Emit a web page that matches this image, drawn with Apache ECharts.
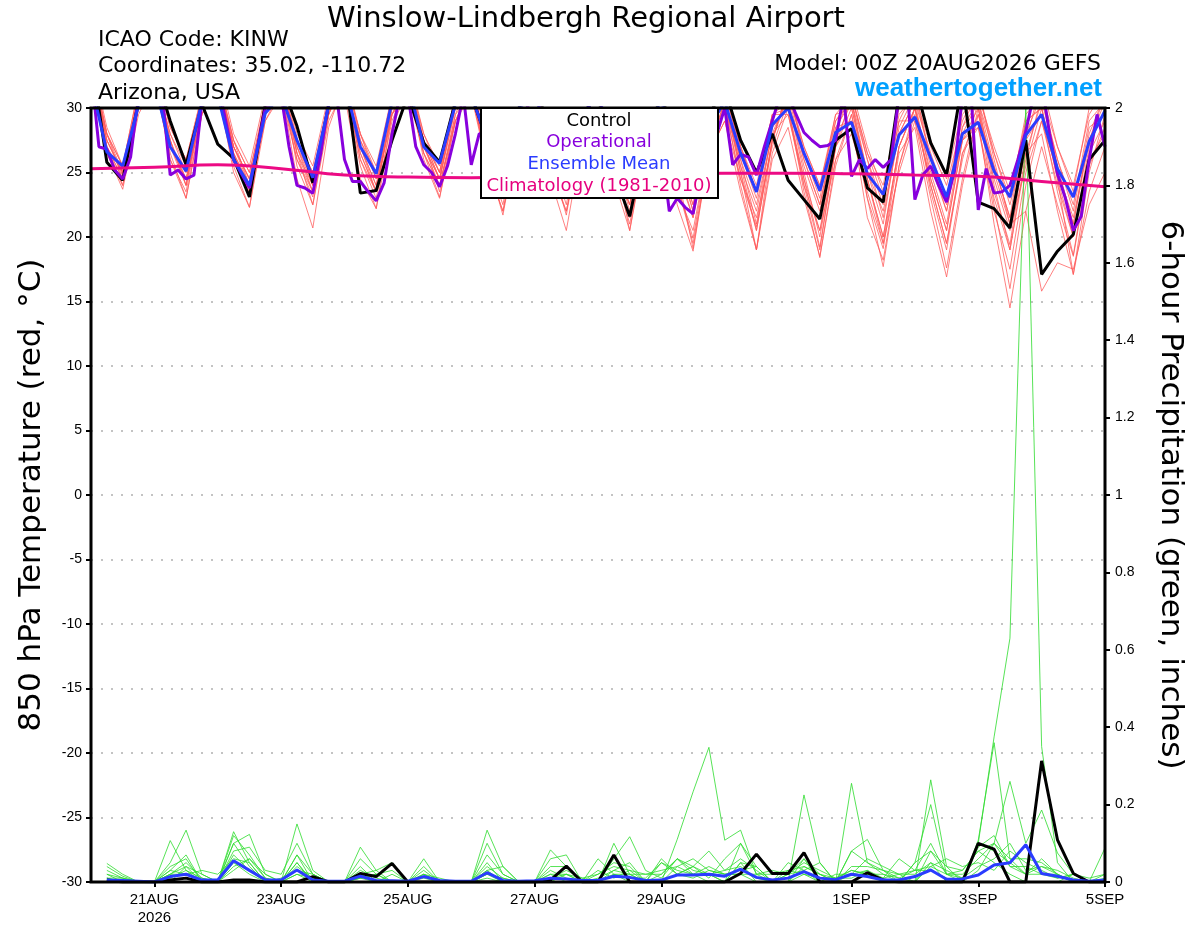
<!DOCTYPE html>
<html>
<head>
<meta charset="utf-8">
<script src="https://cdn.jsdelivr.net/npm/echarts@6/dist/echarts.min.js"></script>
<style>
html,body{margin:0;padding:0;background:#fff;}
#chart{width:1200px;height:927px;}
</style>
</head>
<body>
<div id="chart"></div>
<script>
// ---------- tick labels ----------
const tickHours = [24, 72, 120, 168, 216, 288, 336, 384];
const tickLabels = ['21AUG\n2026', '23AUG', '25AUG', '27AUG', '29AUG', '1SEP', '3SEP', '5SEP'];

// ---------- 850 hPa temperature (every 6 h from 00Z 20AUG) ----------
const controlTemp = [34,25.8,24.4,30.5, 33,29,25.6,30.3, 27.2,26.1,23.1,30.3, 32,28.6,24.2,30.2,
  33,23.4,23.6,27.5, 31,27.3,25.8,30.5, 31,27.5,25.5,30, 32,28,25,29.5,
  31,25,21.6,27.5, 31,27,24.5,29.5, 31.5,27.5,25.0,28.0, 24.4,22.9,21.4,27.5,
  28.4,23.8,22.7,31, 32,27.3,24.8,32, 22.7,22.2,20.7,27.5, 17.1,18.9,20.2,26.0, 27.5];
const meanTemp = [32,26.6,25.5,30.2, 32,27.0,25.1,30.5, 31,26.0,24.0,29.6, 31,27.5,24.6,30.2,
  32,27.0,24.9,30.5, 32,27.0,25.7,30.3, 31,27.5,25.5,30, 31,27.5,25,29.5,
  31,27,24.5,28.5, 30.5,27,24.5,28.5, 30.5,26.5,23.5,28.7, 30,26.5,23.6,28.1,
  28.9,24.9,23.3,27.9, 29.3,26.1,23.1,28.0, 28.9,25.1,23.1,27.9, 29.5,25.3,23.1,27.4, 29.8];
const operHours = [0,3,6,9,12,15,18,24,27,30,33,36,39,42,48,54,60,66,72,75,78,81,84,87,90,93,96,99,102,105,108,111,114,117,120,123,126,129,132,135,138,141,144,147,150,156,162,168,174,180,186,192,198,204,210,213,216,219,222,225,228,231,234,237,240,243,246,249,252,255,258,261,264,267,270,273,276,279,282,285,288,291,294,297,300,303,306,309,312,315,318,321,324,327,330,333,336,339,342,345,348,351,354,357,360,363,366,369,372,375,378,381,384];
const operTemp = [33,27,26.8,25.2,24.5,26.2,31,33,31,24.8,25.2,24.5,24.8,30.5,32,26.0,23.8,30,31,27,24,23.8,23.4,26.5,30.5,31,26,24.3,24.3,23.5,22.8,24.2,28,31,31,27,25.6,25.0,23.9,25.5,28,31,25.6,28,28,25.5,29,31,28,25,29.5,31,27,24,28,30,27,22.0,23.0,22.3,21.8,25,28,28,30,25.6,26.4,26.2,24.8,27,29,31,31,29.5,28.1,27.5,27.0,27.1,27.5,31,24.7,26.0,25.3,26.0,25.4,26.0,31,32,22.9,24.8,25.5,24.0,22.7,25.1,31,32,22.1,25.3,23.4,23.5,24.0,26,28.2,31,32,28,24.9,23.0,20.5,21.6,26,29.5,27];
const climHours = [0,24,48,72,96,120,144,168,192,216,240,264,288,312,336,360,384];
const climTemp = [25.3,25.4,25.6,25.3,24.8,24.65,24.6,24.7,24.8,24.9,24.95,24.95,24.9,24.8,24.7,24.3,23.9];

// ensemble members, temperature
const tMember01 = [33.5,27.5,24.8,30.5, 32.5,28.0,25.5,30.0, 32.0,27.0,24.5,30.5, 32.0,27.5,25.0,30.5, 32.5,28.0,24.5,29.5, 31.5,27.0,24.0,29.0, 31.0,26.5,23.5,29.0, 31.5,27.0,24.5,29.5, 31.0,26.0,22.5,28.5, 30.5,25.5,21.5,27.5, 30.0,26.0,22.5,28.0, 31.0,27.0,24.0,29.0, 30.5,24.5,20.0,27.0, 30.0,25.5,22.0,28.5, 31.5,26.5,23.0,29.5, 31.0,25.5,21.0,27.5, 30.5];
const tMember02 = [33.0,26.5,24.0,30.0, 33.0,27.0,24.5,29.5, 31.5,25.0,22.3,29.0, 31.0,26.0,23.5,30.0, 32.0,26.0,23.0,29.0, 32.0,27.5,25.0,30.5, 32.5,28.0,24.5,30.0, 31.0,25.5,22.0,28.0, 30.0,24.5,20.5,27.0, 29.5,24.0,19.5,26.5, 29.0,23.5,19.0,26.0, 28.5,23.0,18.5,25.5, 29.5,24.5,20.0,27.0, 30.0,24.0,19.5,26.5, 28.5,22.0,17.5,25.0, 29.0,24.0,20.0,27.0, 30.0];
const tMember03 = [34.0,27.0,24.5,31.0, 32.0,26.5,23.0,29.5, 32.5,27.5,25.0,30.0, 32.5,25.5,22.5,29.0, 31.5,25.5,22.2,29.5, 32.0,27.5,24.5,30.5, 31.5,26.0,21.7,28.5, 31.5,27.5,25.0,30.0, 32.0,26.5,20.5,27.5, 31.0,26.5,22.0,28.5, 31.5,27.0,23.5,29.5, 30.0,24.0,19.0,27.0, 31.0,26.5,23.0,29.0, 31.5,27.5,24.5,30.0, 30.0,23.5,19.4,27.5, 32.0,27.0,24.0,29.5, 31.5];
const tMember04 = [33.0,28.0,25.5,31.0, 32.5,27.0,24.0,30.5, 33.0,26.0,23.4,29.0, 31.5,24.5,20.7,28.5, 32.0,27.0,23.5,30.0, 33.0,28.0,25.5,31.0, 32.0,27.0,24.5,30.0, 32.5,27.0,23.5,29.5, 31.5,27.5,24.5,30.0, 30.0,24.0,19.9,27.0, 30.5,25.5,20.5,27.5, 31.5,26.5,23.5,29.5, 30.0,25.0,22.0,28.0, 30.5,24.5,20.5,27.5, 29.0,21.0,14.5,22.0, 27.0,22.5,18.5,25.5, 28.5];
const tMember05 = [32.5,27.0,25.0,30.5, 33.5,28.5,26.0,31.0, 32.0,26.5,24.0,30.0, 32.5,26.5,24.0,30.5, 31.0,24.5,22.2,28.5, 31.5,26.5,23.1,29.0, 32.0,27.0,24.0,29.5, 31.0,26.0,21.7,28.5, 31.5,26.0,22.5,29.0, 31.0,25.0,19.1,26.5, 30.5,26.0,21.0,28.5, 30.0,23.5,18.4,26.0, 29.5,23.0,17.7,25.5, 30.0,25.0,21.0,28.0, 30.5,24.0,19.0,26.0, 31.0,26.0,22.0,28.5, 29.5];
const tMember06 = [34.0,28.5,25.5,31.5, 32.0,27.5,24.5,30.0, 32.5,27.0,24.0,30.5, 33.0,27.5,25.0,30.0, 32.5,27.0,24.0,30.5, 32.0,26.0,23.0,29.0, 31.5,26.5,23.5,29.5, 30.5,25.0,22.0,28.0, 30.0,25.5,22.5,28.5, 29.5,22.5,18.9,26.5, 29.0,24.5,20.8,27.5, 31.0,26.0,22.5,28.5, 30.5,26.0,22.5,29.0, 29.0,23.0,17.6,24.5, 30.0,22.5,16.0,24.0, 29.0,25.0,21.5,27.5, 31.0];
const tMember07 = [33.0,27.5,25.0,31.0, 32.5,28.0,25.0,30.5, 32.0,27.0,24.5,29.5, 31.5,26.0,23.1,29.5, 33.0,28.0,25.5,31.0, 32.5,27.0,24.5,30.0, 32.5,27.5,24.0,30.5, 32.0,27.0,23.5,29.0, 31.0,26.5,23.0,29.5, 30.5,26.0,22.5,28.0, 31.0,25.0,19.0,26.5, 30.0,24.5,19.2,27.0, 29.0,23.0,19.1,26.5, 28.5,22.0,16.9,24.0, 29.5,25.5,21.5,26.5, 28.0,22.0,17.1,23.5, 27.0];
const tMember08 = [33.5,28.0,24.5,30.0, 33.0,27.5,24.0,30.0, 32.5,26.5,23.5,30.0, 32.0,27.0,24.0,29.5, 32.5,26.5,23.5,30.0, 31.5,26.5,24.0,29.5, 31.0,25.5,22.0,28.5, 31.5,26.5,23.5,29.5, 32.0,27.0,24.0,29.0, 31.5,26.5,23.0,28.5, 31.0,27.0,23.5,29.5, 29.5,24.0,20.5,26.0, 28.0,23.5,19.5,25.0, 29.0,24.5,20.5,27.5, 30.0,25.0,21.0,22.0, 15.8,18.0,17.5,22.5, 25.0];
const tMember09 = [33.0,27.0,24.5,30.5, 32.5,26.0,23.5,30.0, 33.0,28.0,25.5,31.0, 32.5,27.0,24.5,30.5, 32.0,27.5,25.0,30.5, 32.5,27.0,24.5,30.0, 33.0,27.5,25.0,30.5, 32.5,27.5,24.5,30.5, 32.0,26.5,23.5,29.5, 31.5,26.0,22.0,28.5, 30.5,25.0,20.5,27.5, 31.5,27.0,24.0,29.5, 31.0,26.0,21.5,28.0, 30.5,26.5,23.0,29.5, 31.0,27.0,23.5,29.0, 30.0,24.5,20.0,26.5, 29.0];
const tMember10 = [32.5,26.5,23.7,29.5, 32.0,27.0,24.5,29.5, 31.5,27.0,24.5,29.5, 32.0,27.5,24.0,30.0, 32.5,28.0,25.0,31.0, 32.5,27.5,25.0,30.5, 32.0,27.0,24.5,30.0, 31.5,26.5,23.0,29.0, 30.5,25.5,21.0,27.5, 30.0,25.0,21.5,28.5, 30.5,25.5,22.0,28.0, 29.5,24.5,20.5,27.5, 30.5,25.0,21.0,28.5, 31.0,26.0,22.5,27.5, 28.5,23.0,19.0,26.5, 30.5,26.0,22.5,29.0, 30.5];
const tMember11 = [33.5,27.5,25.0,31.0, 32.5,27.0,25.0,30.5, 32.5,27.5,24.0,30.0, 33.0,28.0,25.5,31.0, 31.5,26.5,23.5,29.5, 31.0,26.5,24.0,29.0, 31.5,26.0,22.5,29.0, 32.0,27.5,25.0,30.5, 32.5,27.5,25.0,30.5, 31.5,27.5,24.5,29.5, 31.5,26.5,23.0,28.5, 30.5,25.5,22.0,28.5, 29.0,21.5,18.2,25.5, 29.5,24.0,19.5,26.0, 30.5,26.5,22.5,27.5, 29.5,23.5,18.6,26.0, 28.0];
const tMember12 = [34.0,28.0,25.5,31.5, 33.0,28.5,26.0,31.0, 32.0,27.5,25.0,30.5, 32.5,26.5,22.5,29.5, 33.0,27.5,24.5,30.5, 32.0,27.5,23.5,29.5, 32.5,28.0,25.5,31.0, 32.0,27.5,24.0,30.0, 31.5,27.0,23.5,29.0, 30.0,23.5,20.5,27.0, 30.5,24.0,19.0,27.5, 31.5,26.5,23.0,29.0, 31.0,26.5,24.0,30.0, 31.5,26.0,22.0,28.5, 30.5,25.5,21.5,29.0, 30.0,25.0,21.0,28.0, 31.0];
const tMember13 = [33.0,27.0,24.0,30.0, 33.5,27.5,24.0,30.5, 31.0,25.5,22.3,29.5, 31.5,26.5,23.5,29.5, 32.0,26.0,23.5,30.0, 33.0,27.5,24.5,30.5, 31.5,25.5,22.0,28.0, 31.0,26.5,22.5,29.0, 31.5,26.5,22.0,28.0, 31.0,27.0,23.5,29.5, 31.5,27.0,24.0,29.5, 30.5,25.0,20.0,27.0, 30.0,24.5,19.5,27.0, 30.0,23.5,19.0,26.5, 29.5,24.5,20.5,25.5, 30.0,24.5,17.1,25.0, 29.5];
const tMember14 = [33.5,28.0,25.0,30.5, 32.5,26.0,23.0,29.5, 32.5,26.5,24.0,30.5, 32.5,27.0,23.5,30.0, 31.5,27.0,24.0,29.5, 32.5,28.0,25.0,31.0, 31.0,26.0,23.0,28.5, 30.5,24.5,20.5,27.5, 31.0,25.5,21.5,28.0, 31.5,26.5,22.5,29.0, 30.0,24.5,21.5,27.0, 30.5,26.0,22.5,28.0, 31.5,27.0,23.5,29.5, 31.0,27.0,24.0,29.0, 31.5,26.0,21.0,28.0, 31.0,27.0,23.5,30.0, 32.0];

// ---------- 6-hour precipitation (inches, valid 06Z 20AUG .. 00Z 5SEP) ----------
const controlPrecip = [0.005,0,0,0, 0.005,0.01,0,0, 0.005,0.005,0,0, 0,0.014,0,0, 0.022,0.014,0.048,0, 0,0,0,0, 0,0,0,0, 0.005,0.041,0,0, 0.07,0,0,0, 0,0,0,0, 0.022,0.072,0.022,0.022, 0.076,0,0,0, 0.024,0.005,0,0, 0,0,0,0.1, 0.085,0,0,0.313, 0.109,0.022,0,0];
const meanPrecip = [0.005,0.004,0.002,0, 0.014,0.02,0.005,0.005, 0.055,0.03,0.006,0.005, 0.031,0.005,0.002,0.002, 0.015,0.004,0.003,0.002, 0.014,0.004,0.002,0.002, 0.024,0.004,0.002,0.003, 0.01,0.008,0.004,0.004, 0.015,0.012,0.004,0.005, 0.018,0.018,0.02,0.015, 0.033,0.012,0.005,0.01, 0.027,0.01,0.006,0.02, 0.014,0.005,0.005,0.014, 0.031,0.007,0.008,0.018, 0.044,0.05,0.096,0.022, 0.015,0.005,0.002,0.005];
const pMember01 = [0.048,0.02,0,0, 0.107,0.03,0,0, 0.13,0.05,0,0, 0.02,0,0,0, 0.04,0,0,0, 0,0,0,0, 0.05,0,0,0, 0.02,0,0,0.06, 0.02,0,0,0, 0.02,0.04,0.02,0, 0.05,0,0,0, 0.06,0,0,0.02, 0.03,0,0,0, 0.08,0.02,0,0.1, 0.375,0.63,2.0,0.35, 0.05,0,0,0];
const pMember02 = [0.04,0.015,0,0, 0.05,0.134,0.02,0, 0.12,0.07,0.01,0, 0.15,0.03,0,0, 0.02,0,0,0, 0.06,0,0,0, 0.134,0.04,0,0, 0,0.02,0,0, 0.1,0.02,0,0, 0.11,0.233,0.348,0.108, 0.134,0.02,0,0, 0.02,0,0,0, 0.02,0,0,0, 0.05,0,0,0.03, 0.1,0.26,0.1,0.186, 0.075,0.02,0,0];
const pMember03 = [0.02,0,0,0, 0.03,0.07,0,0, 0.1,0.123,0.02,0, 0.07,0.02,0,0, 0.09,0.03,0.05,0, 0.02,0,0,0, 0.07,0.02,0,0, 0.083,0.04,0,0, 0.06,0.117,0.03,0.01, 0.06,0.02,0,0, 0.1,0.04,0,0, 0.225,0.05,0,0.08, 0.11,0.03,0.01,0, 0.264,0.04,0,0.108, 0.36,0.06,0.06,0.05, 0.02,0,0,0.088];
const pMember04 = [0.01,0,0,0, 0.02,0.04,0,0, 0.08,0.09,0.03,0.02, 0.1,0.02,0,0, 0.06,0.02,0,0, 0.04,0,0,0, 0.1,0.02,0,0, 0.06,0.07,0,0, 0.02,0.02,0,0.06, 0.02,0.01,0.03,0.02, 0.03,0.04,0,0.05, 0.03,0.05,0,0.255, 0.05,0.03,0,0.05, 0.2,0.02,0.03,0.08, 0.1,0.06,0.02,0.02, 0.01,0.02,0,0];
const pMember05 = [0.03,0.01,0,0, 0.02,0.02,0.03,0.02, 0.06,0.05,0,0, 0.05,0,0,0, 0.02,0.03,0,0, 0,0,0,0, 0.03,0.04,0,0, 0.04,0.04,0,0, 0.03,0.05,0,0.05, 0.03,0.02,0.04,0.02, 0.02,0,0,0, 0.04,0.02,0,0.08, 0.05,0.02,0,0.05, 0.08,0.04,0.03,0.08, 0.05,0.02,0,0, 0,0.02,0,0];
const pMember06 = [0,0,0,0, 0.04,0.06,0,0, 0.04,0.06,0.01,0, 0.04,0.01,0,0, 0.03,0.01,0,0, 0.02,0.01,0,0, 0.04,0.01,0,0, 0.02,0.02,0,0.02, 0.04,0.03,0.02,0.02, 0.06,0.04,0.01,0.06, 0.1,0.02,0.02,0.03, 0.04,0.02,0,0.04, 0.04,0.03,0.02,0.02, 0.05,0.03,0.01,0.1, 0.08,0.05,0.02,0.04, 0.03,0.01,0,0.02];
const pMember07 = [0.02,0.01,0,0, 0.01,0.03,0.01,0, 0.1,0.04,0,0, 0.07,0,0,0, 0.01,0.02,0.03,0, 0.01,0,0,0, 0.02,0,0,0, 0.01,0.02,0.01,0, 0.02,0.01,0.01,0.05, 0.02,0.04,0.08,0.03, 0.04,0.01,0,0.02, 0.06,0.02,0.01,0.03, 0.02,0.02,0.01,0.03, 0.03,0.01,0,0.09, 0.12,0.04,0.02,0.06, 0.02,0,0,0];
const pMember08 = [0.01,0,0,0, 0,0.04,0.02,0, 0.07,0.03,0,0.01, 0.03,0.02,0,0, 0.02,0,0,0, 0,0,0,0, 0.02,0.01,0,0, 0,0,0,0.03, 0.01,0.03,0,0, 0.04,0.06,0.03,0.02, 0.02,0.02,0.03,0.02, 0.03,0,0.02,0.02, 0.06,0.04,0.02,0, 0.04,0.02,0.02,0.06, 0.1,0.04,0.04,0.02, 0.02,0,0,0.01];
const pMember09 = [0,0,0,0, 0.02,0.05,0.01,0, 0.05,0.02,0,0, 0.02,0.01,0,0, 0.01,0,0.02,0, 0.02,0,0,0, 0.03,0,0,0, 0.03,0.01,0,0.01, 0.03,0.02,0.02,0.03, 0.04,0.02,0.02,0.03, 0.06,0.03,0,0.02, 0.05,0.03,0.01,0.01, 0.03,0.01,0.02,0.03, 0.04,0.06,0.04,0.05, 0.03,0.08,0.05,0.03, 0.01,0.02,0.01,0.02];
const pMember10 = [0.01,0.01,0,0, 0.03,0.02,0,0, 0.03,0.06,0.02,0, 0.05,0,0,0, 0.01,0.02,0,0, 0.03,0,0,0, 0.01,0,0,0, 0.01,0.03,0.01,0.02, 0.05,0.04,0,0.02, 0.06,0.03,0.02,0, 0.05,0.04,0,0.03, 0.02,0.01,0.01,0.03, 0.02,0.01,0.06,0.03, 0.1,0.02,0.01,0.04, 0.06,0.1,0.03,0.04, 0.02,0,0,0];

// ---------- build ----------
const tempMembers = [tMember01,tMember02,tMember03,tMember04,tMember05,tMember06,tMember07,tMember08,tMember09,tMember10,tMember11,tMember12,tMember13,tMember14];
const precipMembers = [pMember01,pMember02,pMember03,pMember04,pMember05,pMember06,pMember07,pMember08,pMember09,pMember10];

const every6 = arr => arr.map((v, i) => [i * 6, v]);
const every6from6 = arr => arr.map((v, i) => [(i + 1) * 6, v]);
const pairs = (hs, vs) => hs.map((h, i) => [h, vs[i]]);

const COL = {control:'#000000', oper:'#8800dd', mean:'#2a3cff', clim:'#ec0a84', member:'#ff5a5a', pmember:'#2fdc2f'};
const FONT_T = '"DejaVu Sans", "Liberation Sans", sans-serif';
const FONT_L = '"Liberation Sans", Arial, sans-serif';

const series = [];
tempMembers.forEach((m, k) => series.push({
  name: 'tm' + k, type: 'line', yAxisIndex: 0, data: every6(m), symbol: 'none',
  lineStyle: {color: COL.member, width: 0.9, opacity: 0.85}, z: 2, silent: true
}));
precipMembers.forEach((m, k) => series.push({
  name: 'pm' + k, type: 'line', yAxisIndex: 1, data: every6from6(m), symbol: 'none',
  lineStyle: {color: COL.pmember, width: 0.9, opacity: 0.9}, z: 3, silent: true
}));
series.push({name:'Control precip', type:'line', yAxisIndex:1, data: every6from6(controlPrecip), symbol:'none', lineStyle:{color:COL.control, width:3}, z:4});
series.push({name:'Mean precip', type:'line', yAxisIndex:1, data: every6from6(meanPrecip), symbol:'none', lineStyle:{color:COL.mean, width:3}, z:4});
series.push({name:'Control', type:'line', yAxisIndex:0, data: every6(controlTemp), symbol:'none', lineStyle:{color:COL.control, width:3}, z:5});
series.push({name:'Operational', type:'line', yAxisIndex:0, data: pairs(operHours, operTemp), symbol:'none', lineStyle:{color:COL.oper, width:3}, z:5});
series.push({name:'Ensemble Mean', type:'line', yAxisIndex:0, data: every6(meanTemp), symbol:'none', lineStyle:{color:COL.mean, width:3}, z:6});
series.push({name:'Climatology', type:'line', yAxisIndex:0, data: pairs(climHours, climTemp), symbol:'none', smooth:true, lineStyle:{color:COL.clim, width:3}, z:7});

const chart = echarts.init(document.getElementById('chart'), null, {renderer:'canvas'});
chart.setOption({
  animation: false,
  backgroundColor: '#ffffff',
  grid: {left: 91, right: 95, top: 108, bottom: 45, show: false},
  xAxis: {
    type: 'value', min: 0, max: 384, position: 'bottom',
    axisLine: {show: false, onZero: false},
    axisTick: {show: true, customValues: tickHours, length: 5, inside: false, lineStyle: {color:'#000', width: 2}},
    axisLabel: {
      customValues: tickHours, color: '#000', fontFamily: FONT_L, fontSize: 15, margin: 9, lineHeight: 18,
      formatter: v => { const i = tickHours.indexOf(v); return i >= 0 ? tickLabels[i] : ''; }
    },
    splitLine: {show: false}
  },
  yAxis: [
    {
      type: 'value', min: -30, max: 30, interval: 5, position: 'left',
      axisLine: {show: false},
      axisTick: {show: true, length: 5, lineStyle: {color:'#000', width: 2}},
      axisLabel: {color:'#000', fontFamily: FONT_L, fontSize: 14, margin: 9},
      splitLine: {show: true, lineStyle: {color: '#b0b0b0', type: [2, 8], width: 1.5}}
    },
    {
      type: 'value', min: 0, max: 2, interval: 0.2, position: 'right',
      axisLine: {show: false},
      axisTick: {show: true, length: 5, lineStyle: {color:'#000', width: 2}},
      axisLabel: {color:'#000', fontFamily: FONT_L, fontSize: 14, margin: 10,
        formatter: v => String(Math.round(v * 10) / 10)},
      splitLine: {show: false}
    }
  ],
  series: series,
  graphic: [
    // plot frame
    {type:'rect', z: 90, silent: true, shape:{x:91, y:108, width:1014, height:774},
      style:{fill:'none', stroke:'#000', lineWidth:3}},
    // legend box
    {type:'rect', z: 95, shape:{x:481, y:108, width:237, height:90},
      style:{fill:'#fff', stroke:'#000', lineWidth:2}},
    {type:'text', z: 96, x: 599, y: 121, style:{text:'Control', fill:COL.control, font:'18px ' + FONT_T, align:'center', verticalAlign:'middle'}},
    {type:'text', z: 96, x: 599, y: 142, style:{text:'Operational', fill:COL.oper, font:'18px ' + FONT_T, align:'center', verticalAlign:'middle'}},
    {type:'text', z: 96, x: 599, y: 164, style:{text:'Ensemble Mean', fill:COL.mean, font:'18px ' + FONT_T, align:'center', verticalAlign:'middle'}},
    {type:'text', z: 96, x: 599, y: 186, style:{text:'Climatology (1981-2010)', fill:'#e6007e', font:'18px ' + FONT_T, align:'center', verticalAlign:'middle'}},
    // titles
    {type:'text', z: 96, x: 586, y: 19, style:{text:'Winslow-Lindbergh Regional Airport', fill:'#000', font:'29px ' + FONT_T, align:'center', verticalAlign:'middle'}},
    {type:'text', z: 96, x: 98, y: 40, style:{text:'ICAO Code: KINW', fill:'#000', font:'22px ' + FONT_T, align:'left', verticalAlign:'middle'}},
    {type:'text', z: 96, x: 98, y: 66, style:{text:'Coordinates: 35.02, -110.72', fill:'#000', font:'22px ' + FONT_T, align:'left', verticalAlign:'middle'}},
    {type:'text', z: 96, x: 98, y: 93, style:{text:'Arizona, USA', fill:'#000', font:'22px ' + FONT_T, align:'left', verticalAlign:'middle'}},
    {type:'text', z: 96, x: 1101, y: 64, style:{text:'Model: 00Z 20AUG2026 GEFS', fill:'#000', font:'22px ' + FONT_T, align:'right', verticalAlign:'middle'}},
    {type:'text', z: 96, x: 1102, y: 89, style:{text:'weathertogether.net', fill:'#00a0ff', font:'bold 26px ' + FONT_L, align:'right', verticalAlign:'middle'}},
    // axis titles
    {type:'text', z: 96, x: 32, y: 495, rotation: Math.PI / 2, style:{text:'850 hPa Temperature (red, °C)', fill:'#000', font:'31px ' + FONT_T, align:'center', verticalAlign:'middle'}},
    {type:'text', z: 96, x: 1170, y: 495, rotation: -Math.PI / 2, style:{text:'6-hour Precipitation (green, inches)', fill:'#000', font:'31px ' + FONT_T, align:'center', verticalAlign:'middle'}}
  ]
});
</script>
</body>
</html>
